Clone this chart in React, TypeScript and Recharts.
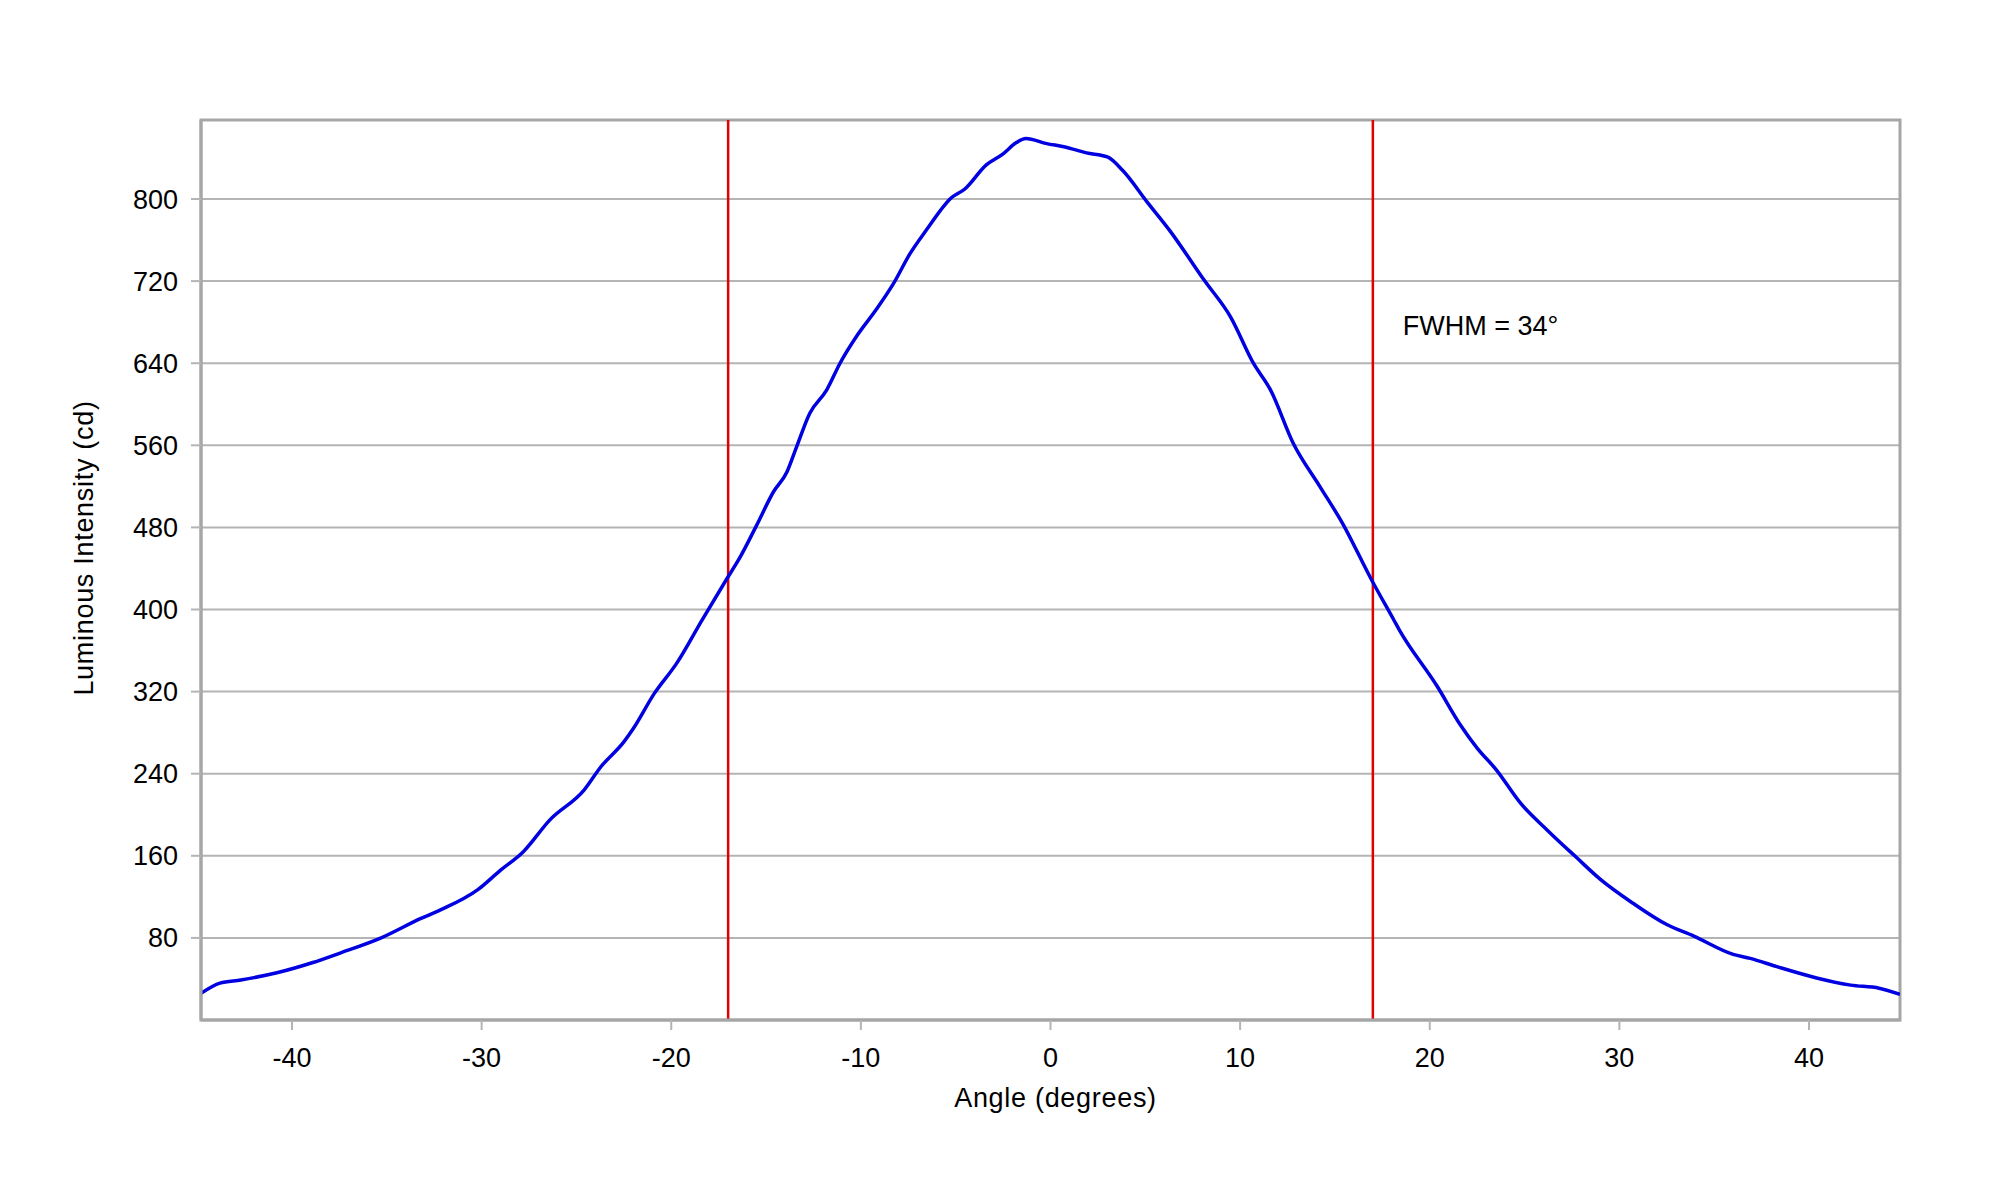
import React from 'react';
import { LineChart, Line, XAxis, YAxis, CartesianGrid, ReferenceLine, ReferenceArea, Label } from 'recharts';

// values
const angles = [
  -44.8, -43.8, -42.7, -40.8, -38.9, -37.5, -35.3, -33.2, -32.2, -30.2,
  -29.0, -27.8, -26.4, -24.6, -23.7, -22.5, -22.0, -20.9, -19.7, -18.4,
  -17.1, -16.4, -15.5, -14.6, -13.9, -13.4, -12.7, -11.8, -11.1, -10.2,
  -9.2, -8.3, -7.4, -6.5, -5.8, -5.3, -4.5, -3.4, -2.5, -1.8,
  -1.3, -0.2, 0.7, 1.9, 3.0, 3.8, 5.1, 6.3, 8.1, 9.5,
  10.7, 11.6, 12.8, 14.2, 15.4, 16.9, 18.1, 18.4, 20.4, 21.6,
  22.5, 23.5, 24.8, 26.2, 27.7, 29.0, 30.7, 32.5, 33.9, 36.0,
  36.9, 38.3, 40.4, 42.2, 43.7, 44.8,
];
const intensity = [
  26, 36, 39, 46, 56, 65, 80, 99, 107, 127,
  146, 164, 195, 224, 247, 271, 284, 318, 348, 389,
  429, 450, 482, 515, 534, 558, 591, 614, 640, 667,
  692, 717, 747, 771, 789, 800, 810, 833, 844, 855,
  859, 854, 851, 845, 841, 828, 797, 769, 721, 685,
  640, 614, 562, 520, 484, 430, 390, 380, 325, 288,
  265, 244, 211, 185, 159, 137, 114, 93, 82, 64,
  60, 52, 41, 34, 31, 25,
];

const xTicks = [-40, -30, -20, -10, 0, 10, 20, 30, 40];
const yTicks = [80, 160, 240, 320, 400, 480, 560, 640, 720, 800];
const halfMax = [-17, 17];
const fwhmText = 'FWHM = 34°';

const data = angles.map((a, i) => ({ angle: a, cd: intensity[i] }));

const FONT = '"Liberation Sans", Arial, sans-serif';
const GRID = '#b4b4b4';
const FRAME = '#a6a6a6';

export default function App() {
  return (
    <div style={{ position: 'absolute', left: 0, top: 0, width: 2000, height: 1200, background: '#fff', fontFamily: FONT }}>
      <LineChart width={2000} height={1200} data={data} margin={{ top: 120, right: 100, bottom: 80, left: 60 }}>
        <CartesianGrid horizontal vertical={false} stroke={GRID} strokeWidth={2} />
        <XAxis
          dataKey="angle"
          type="number"
          domain={[-44.8, 44.8]}
          ticks={xTicks}
          allowDataOverflow
          height={100}
          tickSize={10}
          tickMargin={18}
          axisLine={{ stroke: FRAME, strokeWidth: 3 }}
          tickLine={{ stroke: GRID, strokeWidth: 2 }}
          tick={{ fill: '#000', fontSize: 27, fontFamily: FONT }}
        >
          <Label
            content={({ viewBox }: any) => (
              <text x={viewBox.x + viewBox.width / 2 + 5} y={viewBox.y + 87} textAnchor="middle" fontSize={27} fontFamily={FONT} fill="#000" letterSpacing={0.7}>
                Angle (degrees)
              </text>
            )}
          />
        </XAxis>
        <YAxis
          type="number"
          domain={[0, 877]}
          ticks={yTicks}
          allowDataOverflow
          width={141}
          tickSize={10}
          tickMargin={13}
          axisLine={{ stroke: FRAME, strokeWidth: 3 }}
          tickLine={{ stroke: GRID, strokeWidth: 2 }}
          tick={{ fill: '#000', fontSize: 27, fontFamily: FONT }}
        >
          <Label
            content={({ viewBox }: any) => {
              const x = viewBox.x + 33;
              const y = viewBox.y + 428;
              return (
                <text x={x} y={y} transform={`rotate(-90, ${x}, ${y})`} textAnchor="middle" fontSize={27} fontFamily={FONT} fill="#000" letterSpacing={0.7}>
                  Luminous Intensity (cd)
                </text>
              );
            }}
          />
        </YAxis>
        <ReferenceArea x1={-44.8} x2={44.8} y1={0} y2={877} fill="none" stroke={FRAME} strokeWidth={3} />
        <ReferenceLine x={halfMax[0]} stroke="#e00000" strokeWidth={2.5} />
        <ReferenceLine
          x={halfMax[1]}
          stroke="#e00000"
          strokeWidth={2.5}
          label={{
            content: ({ viewBox }: any) => (
              <text x={viewBox.x + 30} y={viewBox.y + 215} fontSize={27} fontFamily={FONT} fill="#000">
                {fwhmText}
              </text>
            ),
          }}
        />
        <Line type="monotone" dataKey="cd" stroke="#0000e0" strokeWidth={3.5} dot={false} isAnimationActive={false} />
      </LineChart>
    </div>
  );
}
